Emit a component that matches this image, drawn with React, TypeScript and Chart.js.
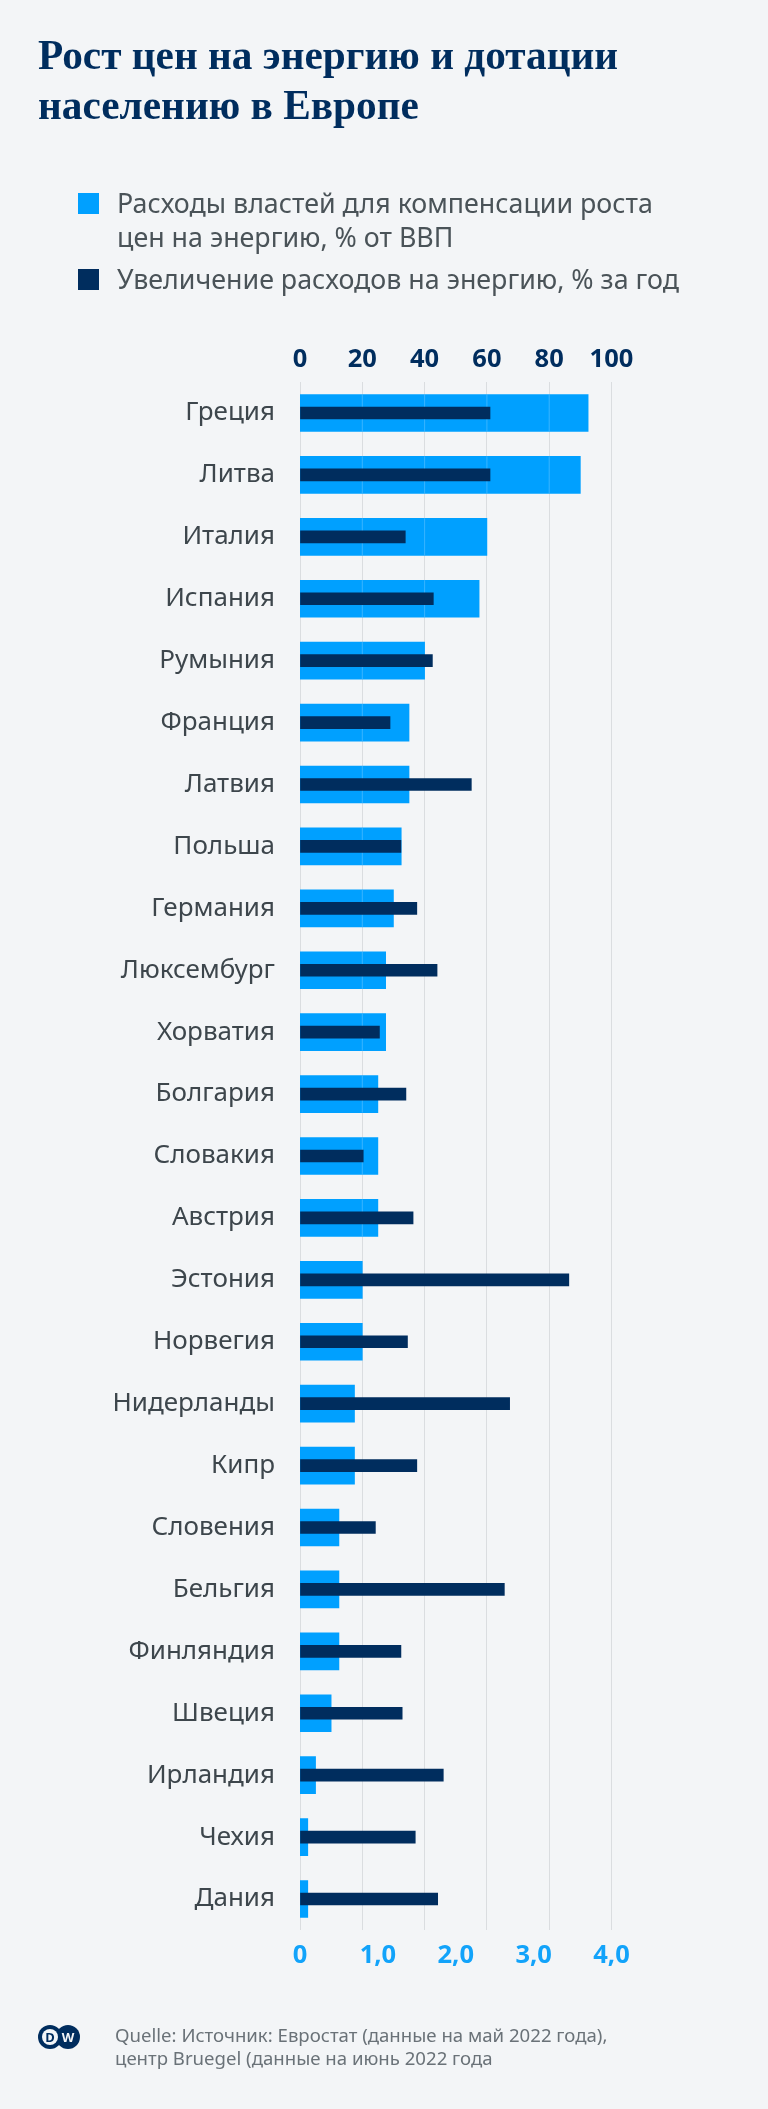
import { useEffect, useRef } from "react";
import { Chart, registerables } from "chart.js";

Chart.register(...registerables);

const countries = [
  "Греция", "Литва", "Италия", "Испания", "Румыния", "Франция", "Латвия", "Польша", "Германия",
  "Люксембург", "Хорватия", "Болгария", "Словакия", "Австрия", "Эстония", "Норвегия", "Нидерланды",
  "Кипр", "Словения", "Бельгия", "Финляндия", "Швеция", "Ирландия", "Чехия", "Дания",
];
// % of GDP, bottom axis
const subsidies = [3.7, 3.6, 2.4, 2.3, 1.6, 1.4, 1.4, 1.3, 1.2, 1.1, 1.1, 1.0, 1.0, 1.0, 0.8, 0.8, 0.7, 0.7, 0.5, 0.5, 0.5, 0.4, 0.2, 0.1, 0.1];
// % per year, top axis
const costIncrease = [61, 61, 33.8, 42.8, 42.5, 28.9, 55, 32.4, 37.5, 44, 25.5, 34, 20.3, 36.3, 86.3, 34.5, 67.3, 37.5, 24.2, 65.6, 32.4, 32.8, 46, 37, 44.2];
const bottomTickLabels = ["0", "1,0", "2,0", "3,0", "4,0"];

const NAVY = "#002d5e";
const BLUE = "#00a0ff";
const BG = "#f3f5f7";
const FONT = "'Noto Sans', sans-serif";

// thin lighter lines where the grid runs across the light bars (dark bars stay on top)
const gridOverBars = {
  id: "gridOverBars",
  afterDatasetDraw(chart, args) {
    if (args.index !== 0) return;
    const { ctx } = chart;
    const scale = chart.scales.x;
    ctx.save();
    ctx.fillStyle = "rgba(255,255,255,0.22)";
    args.meta.data.forEach((bar) => {
      scale.ticks.forEach((_, i) => {
        const px = scale.getPixelForTick(i);
        if (i > 0 && px < bar.x) ctx.fillRect(px - 0.5, bar.y - bar.height / 2, 1, bar.height);
      });
    });
    ctx.restore();
  },
};

const text = (top: number, left: number, style = {}) => ({
  position: "absolute" as const,
  top,
  left,
  margin: 0,
  whiteSpace: "nowrap" as const,
  ...style,
});

export default function App() {
  const chartRef = useRef<HTMLCanvasElement | null>(null);

  useEffect(() => {
    document.body.style.margin = "0";
    const chart = new Chart(chartRef.current, {
      type: "bar",
      data: {
        labels: countries,
        datasets: [
          { label: "Расходы властей", data: subsidies, xAxisID: "x2", backgroundColor: BLUE, barThickness: 37, order: 2 },
          { label: "Увеличение расходов", data: costIncrease, xAxisID: "x", backgroundColor: NAVY, barThickness: 12, order: 1 },
        ],
      },
      options: {
        indexAxis: "y",
        animation: false,
        responsive: false,
        layout: { padding: { top: 332, bottom: 119, right: 156.5, left: 0 } },
        plugins: { legend: { display: false }, tooltip: { enabled: false } },
        datasets: { bar: { grouped: false } },
        scales: {
          y: {
            afterFit: (s) => { s.width = 300; },
            grid: { display: false },
            border: { display: false },
            ticks: { color: "#3d464c", padding: 17, autoSkip: false, font: { family: FONT, size: 26 } },
          },
          x: {
            position: "top",
            min: 0,
            max: 100,
            afterFit: (s) => { s.height = 50; },
            grid: { color: "#dadde0", lineWidth: 1, drawTicks: false },
            border: { display: false },
            ticks: { stepSize: 20, color: NAVY, padding: 7, maxRotation: 0, font: { family: FONT, size: 25.5, weight: "bold" } },
          },
          x2: {
            position: "bottom",
            min: 0,
            max: 4,
            afterFit: (s) => { s.height = 60; },
            grid: { display: false, drawTicks: false },
            border: { display: false },
            ticks: {
              stepSize: 1,
              color: "#12a3fa",
              padding: 10,
              maxRotation: 0,
              font: { family: FONT, size: 25.5, weight: "bold" },
              callback: (_, i) => bottomTickLabels[i],
            },
          },
        },
      },
      plugins: [gridOverBars],
    });
    return () => chart.destroy();
  }, []);

  const titleStyle = { fontFamily: "'Liberation Serif', serif", fontWeight: 700, fontSize: 41.3, lineHeight: "50px", color: NAVY };
  const legendStyle = { fontFamily: FONT, fontSize: 26.8, lineHeight: "34px", color: "#4a5358" };
  const footStyle = { fontFamily: FONT, fontSize: 18.6, lineHeight: "23px", color: "#6a7278" };

  return (
    <div style={{ position: "relative", width: 768, height: 2109, background: BG, overflow: "hidden" }}>
      <canvas ref={chartRef} width={768} height={2109} style={{ position: "absolute", top: 0, left: 0 }} />

      <div style={text(30, 38, titleStyle)}>
        Рост цен на энергию и дотации
        <br />
        населению в Европе
      </div>

      <div style={text(193, 78, { width: 21, height: 21, background: BLUE })} />
      <div style={text(186, 117, legendStyle)}>
        Расходы властей для компенсации роста
        <br />
        цен на энергию, % от ВВП
      </div>
      <div style={text(269, 78, { width: 21, height: 21, background: NAVY })} />
      <div style={text(262, 117, legendStyle)}>Увеличение расходов на энергию, % за год</div>

      <svg style={text(2025, 38)} width="42" height="24" viewBox="0 0 42 24">
        <circle cx="12" cy="12" r="12" fill={NAVY} />
        <circle cx="30" cy="12" r="12" fill={NAVY} />
        <circle cx="12" cy="12" r="8" fill={BG} />
        <text x="12" y="17" textAnchor="middle" fontFamily={FONT} fontWeight="700" fontSize="13" fill={NAVY}>D</text>
        <text x="30" y="17" textAnchor="middle" fontFamily={FONT} fontWeight="700" fontSize="13" fill={BG}>W</text>
      </svg>
      <div style={text(2023, 115, footStyle)}>
        Quelle: Источник: Евростат (данные на май 2022 года),
        <br />
        центр Bruegel (данные на июнь 2022 года
      </div>
    </div>
  );
}
